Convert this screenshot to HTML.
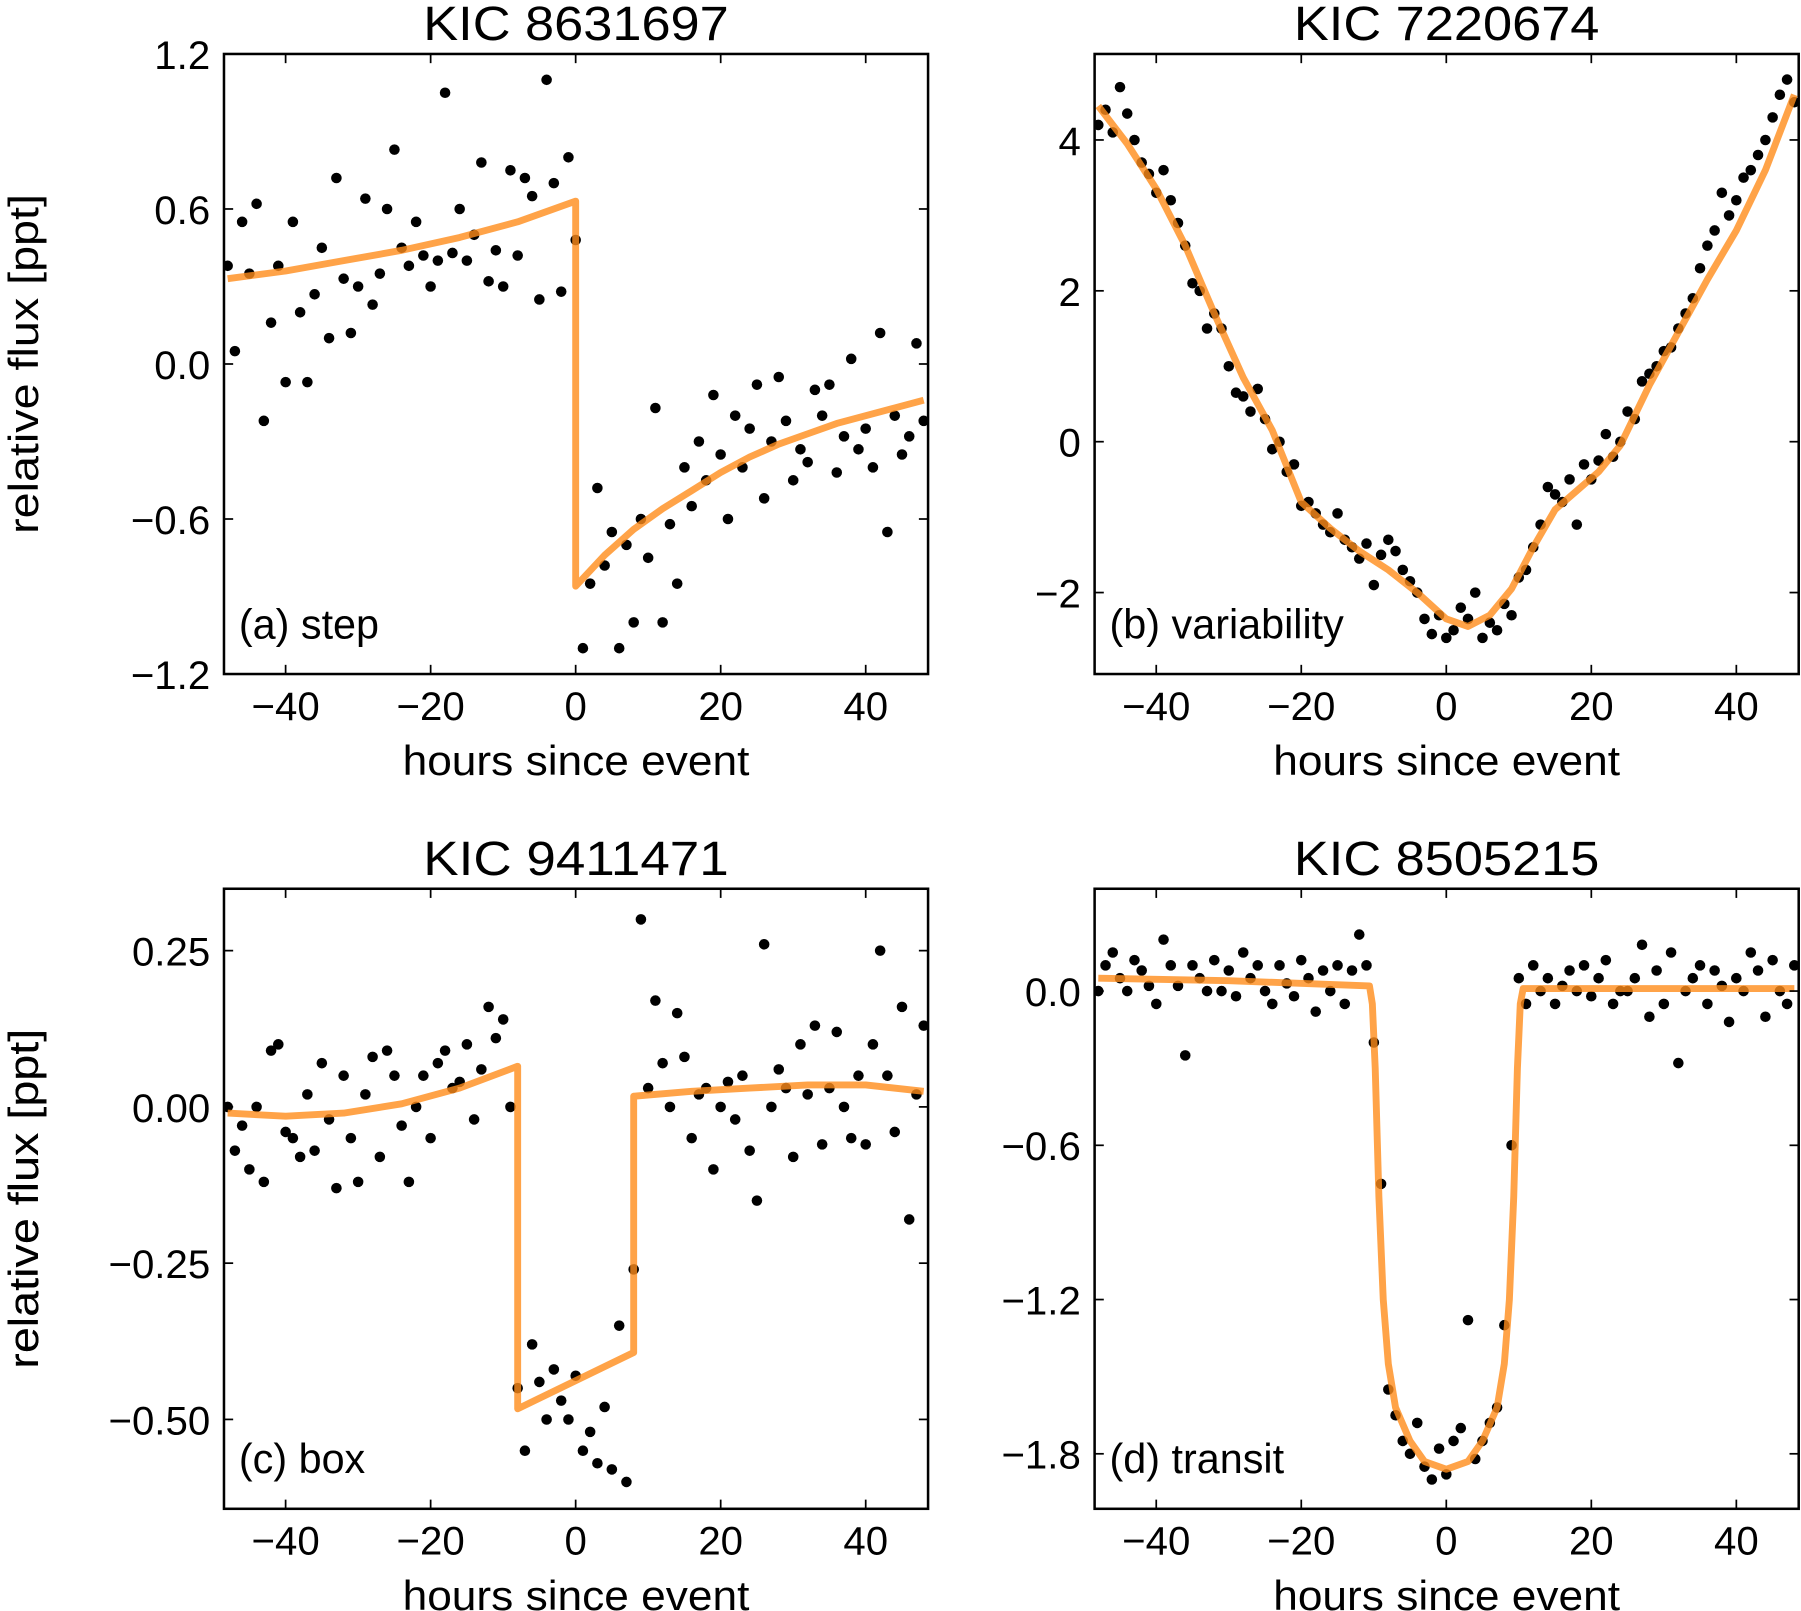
<!DOCTYPE html>
<html><head><meta charset="utf-8"><style>
html,body{margin:0;padding:0;background:#fff}
svg{display:block}
text{font-family:"Liberation Sans","DejaVu Sans",sans-serif;fill:#000}
</style></head><body>
<svg id="fig" width="1801" height="1611" viewBox="0 0 1568 1403" preserveAspectRatio="none" xmlns="http://www.w3.org/2000/svg"></svg>
<script>
const hours = [];
for (let h = -48; h <= 48; h++) hours.push(h);

const dataA = [0.38,0.05,0.55,0.35,0.62,-0.22,0.16,0.38,
-0.07,0.55,0.2,-0.07,0.27,0.45,0.1,0.72,
0.33,0.12,0.3,0.64,0.23,0.35,0.6,0.83,
0.45,0.38,0.55,0.42,0.3,0.4,1.05,0.43,
0.6,0.4,0.5,0.78,0.32,0.44,0.3,0.75,
0.42,0.72,0.65,0.25,1.1,0.7,0.28,0.8,
0.48,
-1.1,-0.85,-0.48,-0.78,-0.65,-1.1,-0.7,-1.0,
-0.6,-0.75,-0.17,-1.0,-0.62,-0.85,-0.4,-0.55,
-0.3,-0.45,-0.12,-0.35,-0.6,-0.2,-0.4,-0.25,
-0.08,-0.52,-0.3,-0.05,-0.22,-0.45,-0.33,-0.38,
-0.1,-0.2,-0.08,-0.42,-0.28,0.02,-0.33,-0.25,
-0.4,0.12,-0.65,-0.2,-0.35,-0.28,0.08,-0.22];
const modelAx = [-48,-40,-32,-24,-16,-8,0,0,4,8,12,16,20,24,28,32,36,40,44,48];
const modelAy = [0.33,0.36,0.40,0.44,0.49,0.55,0.63,-0.86,-0.74,-0.64,-0.56,-0.49,-0.42,-0.36,-0.31,-0.27,-0.23,-0.20,-0.17,-0.14];

const dataB = [4.2,4.4,4.1,4.7,4.35,4.0,3.7,3.55,
3.3,3.6,3.2,2.9,2.6,2.1,2.0,1.5,
1.7,1.5,1.0,0.65,0.6,0.4,0.7,0.3,
-0.1,0.0,-0.4,-0.3,-0.85,-0.8,-0.95,-1.1,
-1.2,-0.95,-1.3,-1.4,-1.55,-1.35,-1.9,-1.5,
-1.3,-1.45,-1.7,-1.85,-2.0,-2.35,-2.55,-2.3,
-2.6,
-2.5,-2.2,-2.35,-2.0,-2.6,-2.4,-2.5,-2.15,
-2.3,-1.8,-1.7,-1.4,-1.1,-0.6,-0.7,-0.8,
-0.5,-1.1,-0.3,-0.5,-0.25,0.1,-0.2,0.0,
0.4,0.3,0.8,0.9,1.0,1.2,1.25,1.5,
1.7,1.9,2.3,2.6,2.8,3.3,3.0,3.2,
3.5,3.6,3.8,4.0,4.3,4.6,4.8,4.5];
const modelBx = [-48,-44,-40,-36,-32,-28,-24,-20,-16,-12,-8,-4,0,3,6,9,12,15,18,21,24,28,32,36,40,44,48];
const modelBy = [4.45,3.95,3.35,2.6,1.7,0.85,0.15,-0.8,-1.15,-1.45,-1.7,-2.0,-2.35,-2.45,-2.3,-1.95,-1.4,-0.9,-0.65,-0.4,-0.05,0.75,1.45,2.15,2.8,3.6,4.6];

const dataC = [0.0,-0.07,-0.03,-0.1,0.0,-0.12,0.09,0.1,
-0.04,-0.05,-0.08,0.02,-0.07,0.07,-0.02,-0.13,
0.05,-0.05,-0.12,0.02,0.08,-0.08,0.09,0.05,
-0.03,-0.12,0.0,0.05,-0.05,0.07,0.09,0.03,
0.04,0.1,-0.02,0.06,0.16,0.11,0.14,0.0,
-0.45,-0.55,-0.38,-0.44,-0.5,-0.42,-0.47,-0.5,
-0.43,
-0.55,-0.52,-0.57,-0.48,-0.58,-0.35,-0.6,-0.26,
0.3,0.03,0.17,0.07,0.0,0.15,0.08,-0.05,
0.02,0.03,-0.1,0.0,0.04,-0.02,0.05,-0.07,
-0.15,0.26,0.0,0.06,0.03,-0.08,0.1,0.02,
0.13,-0.06,0.03,0.12,0.0,-0.05,0.05,-0.06,
0.1,0.25,0.05,-0.04,0.16,-0.18,0.02,0.13];
const modelCx = [-48,-40,-32,-24,-16,-8,-8,8,8,16,24,32,40,48];
const modelCy = [-0.01,-0.015,-0.01,0.005,0.03,0.065,-0.483,-0.393,0.017,0.025,0.03,0.035,0.035,0.025];

const dataD = [0.0,0.1,0.15,0.05,0.0,0.12,0.08,0.02,
-0.05,0.2,0.1,0.02,-0.25,0.1,0.05,0.0,
0.12,0.0,0.08,-0.02,0.15,0.05,0.1,0.0,
-0.05,0.1,0.03,-0.02,0.12,0.05,-0.08,0.08,
0.0,0.1,-0.05,0.08,0.22,0.1,-0.2,-0.75,
-1.55,-1.65,-1.75,-1.8,-1.68,-1.85,-1.9,-1.78,
-1.88,
-1.75,-1.7,-1.28,-1.82,-1.75,-1.68,-1.62,-1.3,
-0.6,0.05,-0.05,0.1,0.0,0.05,-0.05,0.02,
0.08,0.0,0.1,-0.02,0.05,0.12,-0.05,0.0,
0.0,0.05,0.18,-0.1,0.08,-0.05,0.15,-0.28,
0.0,0.05,0.1,-0.05,0.08,0.02,-0.12,0.05,
0.0,0.15,0.08,-0.1,0.12,0.0,-0.05,0.1];
const modelDx = [-48,-30,-10.6,-10.2,-9.8,-9.3,-8.7,-8,-7,-5,-3,0,3,5,7,8,8.7,9.3,9.8,10.2,10.6,30,48];
const modelDy = [0.05,0.04,0.02,-0.05,-0.3,-0.8,-1.2,-1.45,-1.62,-1.75,-1.83,-1.86,-1.83,-1.75,-1.62,-1.45,-1.2,-0.8,-0.3,-0.05,0.01,0.01,0.01];

const panels = [
 {id:'a', title:'KIC 8631697', note:'(a) step', L:195,R:808,T:47,B:587, ymin:-1.2, ymax:1.2,
  yt:[1.2,0.6,0.0,-0.6,-1.2], yl:['1.2','0.6','0.0','\u22120.6','\u22121.2'], data:dataA, mx:modelAx, my:modelAy, ylab:true},
 {id:'b', title:'KIC 7220674', note:'(b) variability', L:953,R:1566,T:47,B:587, ymin:-3.08, ymax:5.14,
  yt:[4,2,0,-2], yl:['4','2','0','\u22122'], data:dataB, mx:modelBx, my:modelBy, ylab:false},
 {id:'c', title:'KIC 9411471', note:'(c) box', L:195,R:808,T:774,B:1314, ymin:-0.643, ymax:0.349,
  yt:[0.25,0,-0.25,-0.5], yl:['0.25','0.00','\u22120.25','\u22120.50'], data:dataC, mx:modelCx, my:modelCy, ylab:true},
 {id:'d', title:'KIC 8505215', note:'(d) transit', L:953,R:1566,T:774,B:1314, ymin:-2.014, ymax:0.398,
  yt:[0,-0.6,-1.2,-1.8], yl:['0.0','\u22120.6','\u22121.2','\u22121.8'], data:dataD, mx:modelDx, my:modelDy, ylab:true}
];
const xTicks = [-40,-20,0,20,40];
const xTickLabels = ['\u221240','\u221220','0','20','40'];
const XMIN = -48.5, XMAX = 48.6;

const svg = document.getElementById('fig');
const NS = 'http://www.w3.org/2000/svg';
function mk(tag, attrs, parent){ const e=document.createElementNS(NS,tag); for(const k in attrs) e.setAttribute(k,attrs[k]); parent.appendChild(e); return e; }

panels.forEach(p=>{
  const g = mk('g',{},svg);
  
  
  const sx = v => p.L + (v - XMIN)/(XMAX - XMIN)*(p.R - p.L);
  const sy = v => p.B - (v - p.ymin)/(p.ymax - p.ymin)*(p.B - p.T);
  const clipId='clip'+p.id;
  const cp = mk('clipPath',{id:clipId},g);
  mk('rect',{x:p.L,y:p.T,width:p.R-p.L,height:p.B-p.T},cp);
  const plot = mk('g',{'clip-path':'url(#'+clipId+')'},g);
  const pts = mk('g',{},plot);
  
  
  p.data.forEach((v,i)=>{
    const c = mk('circle',{cx:sx(hours[i]).toFixed(1),cy:sy(v).toFixed(1),r:4.6,fill:'#000'},pts);
    
    
  });
  const d = p.mx.map((x,i)=>(i?'L':'M')+sx(x).toFixed(1)+' '+sy(p.my[i]).toFixed(1)).join(' ');
  const line = mk('path',{d:d,fill:'none',stroke:'#ff8c1a','stroke-opacity':0.8,'stroke-width':6,'stroke-linejoin':'round'},plot);
  
  
  const fr = mk('rect',{x:p.L,y:p.T,width:p.R-p.L,height:p.B-p.T,fill:'none',stroke:'#000','stroke-width':2.2},g);
  
  
  xTicks.forEach((t,i)=>{
    const x = sx(t);
    mk('line',{x1:x,x2:x,y1:p.B,y2:p.B-8,stroke:'#000','stroke-width':1.5},g);
    mk('line',{x1:x,x2:x,y1:p.T,y2:p.T+8,stroke:'#000','stroke-width':1.5},g);
    const tx = mk('text',{x:x,y:p.B+40,'font-size':35,'text-anchor':'middle'},g);
    tx.textContent = xTickLabels[i];
    
    
  });
  p.yt.forEach((t,i)=>{
    const y = sy(t);
    mk('line',{x1:p.L,x2:p.L+8,y1:y,y2:y,stroke:'#000','stroke-width':1.5},g);
    mk('line',{x1:p.R,x2:p.R-8,y1:y,y2:y,stroke:'#000','stroke-width':1.5},g);
    const ty = mk('text',{x:p.L-12,y:y+13,'font-size':35,'text-anchor':'end'},g);
    ty.textContent = p.yl[i];
    
    
  });
  const ti = mk('text',{x:(p.L+p.R)/2,y:p.T-12,'font-size':42,'text-anchor':'middle',textLength:266,lengthAdjust:'spacingAndGlyphs'},g);
  ti.textContent = p.title;
  
  
  const xl = mk('text',{x:(p.L+p.R)/2,y:p.B+88,'font-size':36,'text-anchor':'middle',textLength:302,lengthAdjust:'spacingAndGlyphs'},g);
  xl.textContent = 'hours since event';
  
  
  const nt = mk('text',{x:p.L+13,y:p.B-31,'font-size':36},g);
  nt.textContent = p.note;
  
  
  if(p.ylab){
    const cy=(p.T+p.B)/2;
    const yl = mk('text',{x:0,y:0,'font-size':36,'text-anchor':'middle',transform:'translate(33,'+cy+') rotate(-90)',textLength:296,lengthAdjust:'spacingAndGlyphs'},g);
    yl.textContent = 'relative flux [ppt]';
    
    
  }
});
</script>
</body></html>
